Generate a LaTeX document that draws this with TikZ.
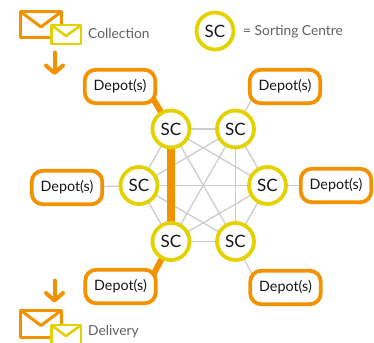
\documentclass[tikz,border=0pt]{standalone}
\usepackage{fontspec}
\setmainfont{Lato}
\usetikzlibrary{arrows.meta,backgrounds}
\definecolor{postorange}{HTML}{F39200}
\definecolor{postyellow}{HTML}{E3D200}
\definecolor{linkgray}{HTML}{CCCCCC}
\definecolor{labelgray}{HTML}{5F6062}
\definecolor{textblack}{HTML}{16161A}
\tikzset{
	sc/.style={circle,draw=postyellow,line width=3.8pt,fill=white,minimum size=37pt,inner sep=0pt,text=textblack,font=\fontsize{17}{17}\selectfont},
	depot/.style={rectangle,rounded corners=11pt,draw=postorange,line width=3.8pt,fill=white,minimum width=70.5pt,minimum height=33.5pt,inner sep=0pt,text=textblack,font=\fontsize{14.3}{15}\selectfont},
	legend/.style={text=labelgray,anchor=west,inner sep=0pt,font=\fontsize{13.8}{14}\selectfont},
	link/.style={linkgray,line width=1.3pt},
	route/.style={postorange,line width=6pt},
	bigenv/.style={draw=postorange,line width=3pt,line join=round,fill=white},
	smallenv/.style={draw=postyellow,line width=2.6pt,line join=round,fill=white},
	downarrow/.style={postorange,line width=4pt,line cap=round,-{Straight Barb[length=7.5pt,width=17pt,line width=4pt,round]}}
}
\begin{document}
\begin{tikzpicture}[x=1pt,y=-1pt]
	\useasboundingbox (0,0) rectangle (374,342);

	% Centri di smistamento
	\node[sc] (s1) at (171,129) {SC};
	\node[sc] (s2) at (235.5,129) {SC};
	\node[sc] (s3) at (267.5,185.5) {SC};
	\node[sc] (s4) at (235.5,241.5) {SC};
	\node[sc] (s5) at (171,241.5) {SC};
	\node[sc] (s6) at (139,185.5) {SC};

	% Depositi
	\node[depot] (d1) at (120,86.5) {Depot(s)};
	\node[depot] (d2) at (285,86.5) {Depot(s)};
	\node[depot] (d3) at (336,185.5) {Depot(s)};
	\node[depot] (d4) at (285.5,287.5) {Depot(s)};
	\node[depot] (d5) at (120.5,286.5) {Depot(s)};
	\node[depot] (d6) at (67,187.5) {Depot(s)};

	\begin{scope}[on background layer]
		% Linee grigie tra tutti i centri
		\foreach \i/\j in {1/2,1/3,1/4,1/6,2/3,2/4,2/5,2/6,3/4,3/5,3/6,4/5,4/6,5/6}
		\draw[link] (s\i.center) -- (s\j.center);

		% Collegamenti verso i depositi
		\draw[link] (s2.center) -- ([xshift=5pt,yshift=8pt]d2.south west);
		\draw[link] (s3.center) -- (d3);
		\draw[link] (s4.center) -- ([xshift=5pt,yshift=-8pt]d4.north west);
		\draw[link] (s6.center) -- (d6);
		\draw[route] (s1.center) -- ([xshift=-5pt,yshift=8pt]d1.south east);
		\draw[route] (s5.center) -- ([xshift=-5pt,yshift=-8pt]d5.north east);
		\draw[route,line width=7.5pt] (s1.center) -- (s5.center);
	\end{scope}

	% Legenda
	\node[sc] (legendsc) at (215,31) {SC};
	\node[legend] (legendtext) at (243,32) {= Sorting Centre};

	% Buste in alto
	\draw[bigenv] (20.5,11.5) rectangle (61.5,38);
	\draw[bigenv,fill=none] (21,12) -- (41,27) -- (61,12);
	\draw[smallenv] (51.5,25) rectangle (81,44);
	\draw[smallenv,fill=none] (52,25.5) -- (66,36) -- (80.5,25.5);
	\node[legend] (collection) at (88,33.5) {Collection};

	% Buste in basso
	\draw[bigenv] (20.5,310) rectangle (61.5,337);
	\draw[bigenv,fill=none] (21,310.5) -- (41,325.5) -- (61,310.5);
	\draw[smallenv] (51.5,325) rectangle (81,344);
	\draw[smallenv,fill=none] (52,325.5) -- (66,336) -- (80.5,325.5);
	\node[legend] (delivery) at (88,331.5) {Delivery};

	% Frecce
	\coordinate (c1) at (54.5,52.5);
	\coordinate (c2) at (54.5,75);
	\coordinate (c3) at (54.5,280.5);
	\coordinate (c4) at (54.5,302.5);
	\draw[downarrow] (c1) -- (c2);
	\draw[downarrow] (c3) -- (c4);
\end{tikzpicture}
\end{document}
